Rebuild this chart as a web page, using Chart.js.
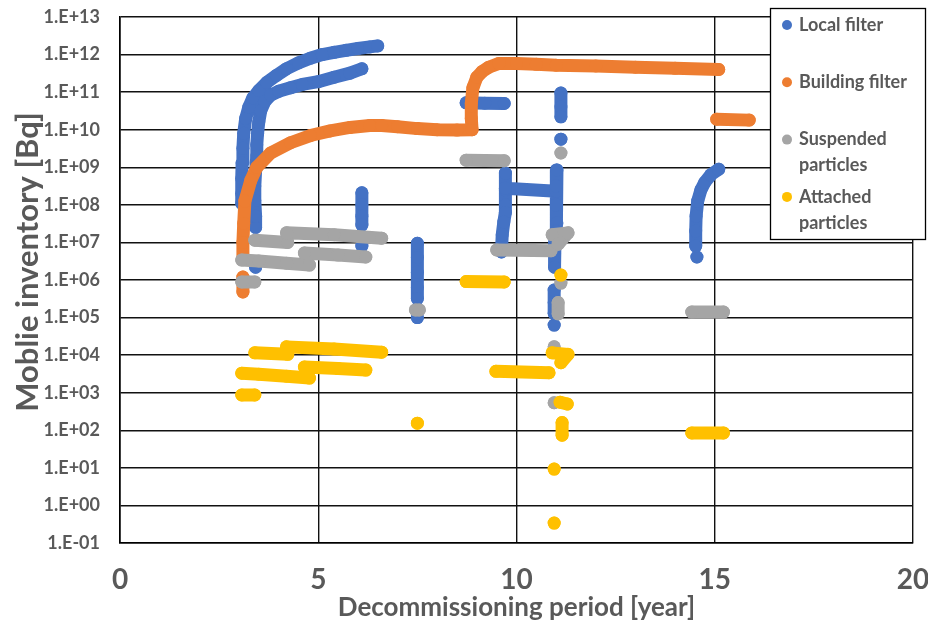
<!DOCTYPE html>
<html>
<head>
<meta charset="utf-8">
<title>Mobile inventory over the decommissioning period</title>
<script src="https://cdn.jsdelivr.net/npm/chart.js@4/dist/chart.umd.min.js"></script>
<style>
  html, body { margin: 0; padding: 0; background: #ffffff; }
  #wrap { width: 928px; height: 626px; position: relative; }
</style>
</head>
<body>
<div id="wrap"><canvas id="chart" width="928" height="626"></canvas></div>
<script>
// Series names and colours
const seriesNames = ['Local filter', 'Building filter', 'Suspended particles', 'Attached particles'];
const seriesColors = ['#4472C4', '#ED7D31', '#A5A5A5', '#FFC000'];

// Axis ticks and titles
const xTickValues = [0, 5, 10, 15, 20];
const yTickValues = [1e-1, 1e0, 1e1, 1e2, 1e3, 1e4, 1e5, 1e6, 1e7, 1e8, 1e9, 1e10, 1e11, 1e12, 1e13];
const yTickLabels = ['1.E-01', '1.E+00', '1.E+01', '1.E+02', '1.E+03', '1.E+04', '1.E+05', '1.E+06',
                     '1.E+07', '1.E+08', '1.E+09', '1.E+10', '1.E+11', '1.E+12', '1.E+13'];
const xTitle = 'Decommissioning period [year]';
const yTitle = 'Moblie inventory [Bq]';

// Each series is a list of runs of [year, Bq] points
const localFilter = [
  [[3.07, 1.1e8], [3.07, 2e8], [3.07, 5e8], [3.08, 1.3e9], [3.1, 3.2e9], [3.12, 8e9], [3.17, 2e10],
   [3.25, 4e10], [3.35, 7e10], [3.5, 1.1e11], [3.7, 1.8e11], [3.95, 2.8e11], [4.2, 4.2e11], [4.5, 6e11],
   [4.8, 8e11], [5.1, 1e12], [5.4, 1.15e12], [5.7, 1.3e12], [6.0, 1.45e12], [6.3, 1.6e12], [6.5, 1.7e12]],
  [[3.42, 2.5e7], [3.42, 5e7], [3.4, 1.3e8], [3.4, 3.2e8], [3.42, 8e8], [3.45, 2e9], [3.45, 4e9],
   [3.47, 8e9], [3.5, 1.6e10], [3.55, 3.2e10], [3.65, 5.6e10], [3.8, 8.3e10], [4.0, 1.05e11],
   [4.3, 1.3e11], [4.6, 1.6e11], [5.0, 1.9e11], [5.4, 2.5e11], [5.8, 3.2e11], [6.1, 4.2e11]],
  [[3.42, 2.2e6]],
  [[6.1, 2.1e8], [6.1, 1e8], [6.1, 5e7], [6.1, 2.9e7]],
  [[6.1, 8e6]],
  [[7.5, 9.5e6], [7.5, 4e6], [7.5, 1.6e6], [7.5, 6.3e5], [7.5, 3.2e5]],
  [[7.5, 1e5]],
  [[8.73, 5.2e10], [9.2, 5.1e10], [9.69, 5e10]],
  [[9.72, 7e8], [9.72, 2.5e8], [9.72, 1e8], [9.72, 6.3e7], [9.68, 3.5e7], [9.64, 1.6e7], [9.62, 5.6e6]],
  [[9.72, 2.75e8], [11.0, 2.3e8]],
  [[11.02, 8.5e8], [11.0, 3.2e8], [11.0, 1e8], [11.02, 3.3e7], [11.0, 2e7], [10.97, 1e7],
   [10.96, 5e6], [10.96, 2.2e6]],
  [[10.95, 5.4e5], [10.95, 2.5e5], [10.95, 1.3e5]],
  [[10.95, 6.3e4]],
  [[11.12, 9.5e10], [11.12, 4e10], [11.12, 2.2e10]],
  [[11.12, 5.6e9]],
  [[14.55, 4.1e6]],
  [[14.52, 8e6], [14.52, 2e7], [14.53, 5e7], [14.57, 1.26e8], [14.65, 2.5e8], [14.75, 4e8],
   [14.9, 6.3e8], [15.1, 8.9e8]]
];

const buildingFilter = [
  [[3.1, 4.8e5], [3.1, 1.2e6]],
  [[3.1, 3.5e6], [3.1, 1e7], [3.12, 3.2e7], [3.15, 1.26e8], [3.3, 4.5e8], [3.45, 1e9], [3.8, 2.4e9],
   [4.3, 4.5e9], [4.8, 7e9], [5.3, 9.3e9], [5.8, 1.15e10], [6.3, 1.3e10], [6.6, 1.3e10], [7.0, 1.2e10],
   [7.5, 1.07e10], [8.0, 1e10], [8.5, 9.8e9], [8.88, 1e10], [8.86, 2e10], [8.86, 5e10], [8.9, 1.3e11],
   [9.0, 2.5e11], [9.13, 3.5e11], [9.3, 4.6e11], [9.56, 5.8e11], [10.0, 5.8e11], [10.5, 5.5e11],
   [11.0, 5.2e11], [12.0, 5e11], [13.0, 4.6e11], [14.0, 4.3e11], [15.1, 4e11]],
  [[15.05, 1.9e10], [15.87, 1.8e10]]
];

const suspendedParticles = [
  [[3.07, 8.9e5], [3.4, 8.9e5]],
  [[3.07, 3.4e6], [3.5, 3.2e6], [4.2, 2.8e6], [4.78, 2.5e6]],
  [[4.65, 5.2e6], [5.5, 4.6e6], [6.2, 4.1e6]],
  [[3.4, 1.15e7], [4.23, 1e7]],
  [[4.2, 1.8e7], [5.4, 1.6e7], [6.6, 1.3e7]],
  [[7.45, 1.6e5], [7.55, 1.6e5]],
  [[8.73, 1.55e9], [9.69, 1.5e9]],
  [[9.5, 6.3e6], [10.87, 6e6]],
  [[11.12, 2.4e9]],
  [[10.9, 1.6e7], [11.3, 1.8e7], [11.05, 9e6]],
  [[11.12, 8.3e5]],
  [[11.05, 2.5e5], [11.05, 1.26e5]],
  [[10.95, 1.66e4]],
  [[10.95, 540]],
  [[14.42, 1.4e5], [15.22, 1.4e5]]
];

const attachedParticles = [
  [[3.07, 870], [3.4, 870]],
  [[3.07, 3.3e3], [3.5, 3.1e3], [4.2, 2.75e3], [4.78, 2.45e3]],
  [[4.65, 4.8e3], [5.5, 4.4e3], [6.2, 4e3]],
  [[3.4, 1.15e4], [4.23, 1.05e4]],
  [[4.2, 1.66e4], [5.4, 1.45e4], [6.6, 1.2e4]],
  [[7.5, 155]],
  [[8.73, 9.1e5], [9.69, 8.9e5]],
  [[9.48, 3.7e3], [10.82, 3.4e3]],
  [[11.12, 1.35e6]],
  [[10.9, 1.15e4], [11.3, 1.05e4], [11.12, 6.3e3]],
  [[11.1, 560], [11.28, 500]],
  [[11.15, 160], [11.15, 74]],
  [[10.95, 9.3]],
  [[10.95, 0.34]],
  [[14.42, 85], [15.22, 85]]
];

const allSeries = [localFilter, buildingFilter, suspendedParticles, attachedParticles];

// Runs are joined into one point list, with a null entry between runs so the stroke breaks
function toPoints(runs) {
  const pts = [];
  runs.forEach((run, i) => {
    if (i > 0) pts.push({ x: run[0][0], y: null });
    run.forEach(([x, y]) => pts.push({ x, y }));
  });
  return pts;
}

const TEXT = '#595959';
const FONT = "Lato, 'Open Sans', sans-serif";
const DOT = 6.5;

const datasets = allSeries.map((runs, i) => ({
  label: seriesNames[i],
  data: toPoints(runs),
  showLine: true,
  spanGaps: false,
  borderColor: seriesColors[i],
  backgroundColor: seriesColors[i],
  borderWidth: DOT * 2,
  borderCapStyle: 'round',
  borderJoinStyle: 'round',
  pointRadius: DOT,
  pointBorderWidth: 0,
  pointBackgroundColor: seriesColors[i],
  pointHoverRadius: DOT,
  order: allSeries.length - i
}));

// Vertical axis title, set a little above the middle of the plot
const yAxisTitle = {
  id: 'yAxisTitle',
  afterDraw(chart) {
    const ctx = chart.ctx;
    const area = chart.chartArea;
    ctx.save();
    ctx.translate(28, (area.top + area.bottom) / 2 - 18);
    ctx.rotate(-Math.PI / 2);
    ctx.font = 'bold 31px ' + FONT;
    ctx.fillStyle = TEXT;
    ctx.textAlign = 'center';
    ctx.textBaseline = 'middle';
    ctx.fillText(yTitle, 0, 0);
    ctx.restore();
  }
};

// Boxed legend that sits over the upper right corner of the plot
const boxLegend = {
  id: 'boxLegend',
  afterDraw(chart) {
    const ctx = chart.ctx;
    const area = chart.chartArea;
    const left = area.right - 143, right = area.right + 13, top = 8, bottom = 240;
    ctx.save();
    ctx.fillStyle = '#ffffff';
    ctx.fillRect(left, top, right - left, bottom - top);
    ctx.strokeStyle = '#000000';
    ctx.lineWidth = 1.3;
    ctx.strokeRect(left + 0.5, top + 0.5, right - left - 1, bottom - top - 1);
    ctx.font = 'bold 18px ' + FONT;
    ctx.textBaseline = 'middle';
    ctx.textAlign = 'left';
    const textX = left + 29, maxW = right - textX - 4;
    seriesNames.forEach((name, i) => {
      const y0 = top + 17 + i * 57.3;
      ctx.fillStyle = seriesColors[i];
      ctx.beginPath();
      ctx.arc(left + 17, y0, 5, 0, Math.PI * 2);
      ctx.fill();
      // wrap on words
      const words = name.split(' ');
      const lines = [];
      let cur = '';
      words.forEach(w => {
        const t = cur ? cur + ' ' + w : w;
        if (ctx.measureText(t).width > maxW && cur) { lines.push(cur); cur = w; } else cur = t;
      });
      lines.push(cur);
      ctx.fillStyle = TEXT;
      lines.forEach((ln, k) => ctx.fillText(ln, textX, y0 + k * 26));
    });
    ctx.restore();
  }
};

new Chart(document.getElementById('chart'), {
  type: 'scatter',
  data: { datasets },
  plugins: [yAxisTitle, boxLegend],
  options: {
    responsive: false,
    animation: false,
    devicePixelRatio: 1,
    layout: { padding: { left: 0, top: 17, right: 15, bottom: 0 } },
    plugins: { legend: { display: false }, tooltip: { enabled: false } },
    scales: {
      x: {
        type: 'linear',
        min: 0, max: 20,
        afterBuildTicks: s => { s.ticks = xTickValues.map(v => ({ value: v })); },
        afterFit: s => { s.height = 83; s.paddingLeft = 0; s.paddingRight = 0; },
        ticks: { color: TEXT, font: { family: FONT, size: 28, weight: 'bold' }, padding: 20 },
        grid: { color: '#111111', lineWidth: 1.4, drawTicks: false },
        border: { color: '#000000', width: 1.6 },
        title: {
          display: true, text: xTitle, color: TEXT,
          font: { family: FONT, size: 26, weight: 'bold' }, padding: { top: 0, bottom: 3 }
        }
      },
      y: {
        type: 'logarithmic',
        min: 1e-1, max: 1e13,
        afterBuildTicks: s => { s.ticks = yTickValues.map(v => ({ value: v })); },
        afterFit: s => { s.width = 120; s.paddingTop = 0; s.paddingBottom = 0; },
        ticks: {
          color: TEXT, font: { family: FONT, size: 18, weight: 'bold' }, padding: 20,
          autoSkip: false,
          callback: v => { const k = yTickValues.indexOf(v); return k >= 0 ? yTickLabels[k] : ''; }
        },
        grid: { color: '#111111', lineWidth: 1.4, drawTicks: false },
        border: { color: '#000000', width: 1.6 },
        title: { display: false }
      }
    }
  }
});
</script>
</body>
</html>
